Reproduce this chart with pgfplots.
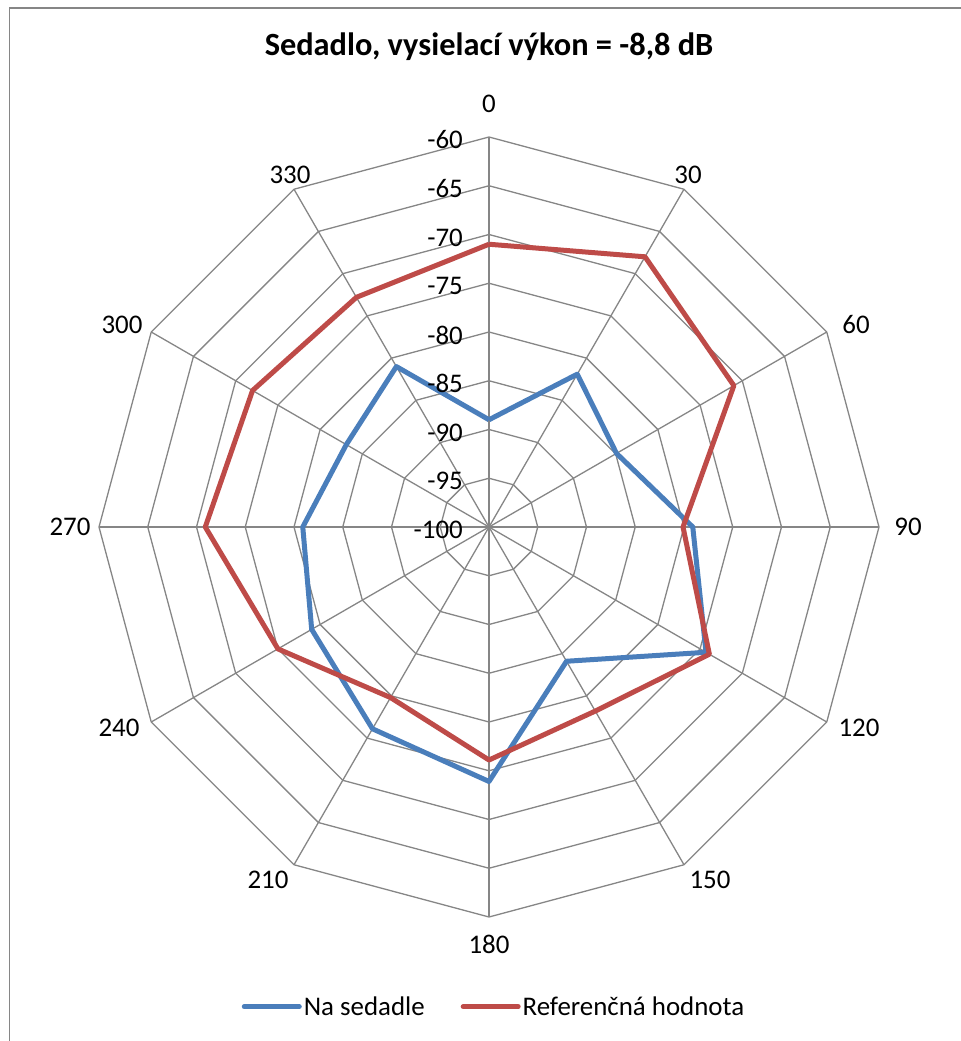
\documentclass[border=0pt]{standalone}
\usepackage{fontspec}
\setmainfont{Carlito}
\usepackage{pgfplots}
\usepackage{pgfplotstable}
\pgfplotsset{compat=1.18}
\usepgfplotslibrary{polar}

\definecolor{gridgray}{HTML}{868686}
\definecolor{seatblue}{HTML}{4A7EBB}
\definecolor{refred}{HTML}{BE4B48}

% received level (dB) per direction (degrees, clockwise from the top)
\pgfplotstableread{
angle seat  ref
0     -89.0 -71.0
30    -81.9 -68.0
60    -84.9 -71.0
90    -79.1 -80.1
120   -74.3 -73.9
150   -84.1 -78.2
180   -73.9 -76.1
210   -76.1 -79.8
240   -79.0 -75.0
270   -80.9 -70.9
300   -83.1 -72.0
330   -81.0 -72.8
360   -89.0 -71.0
}\radardata

% compass angle -> polar angle, level -> radius above -100 dB
\pgfplotsset{radar/.style={
  x filter/.expression={mod(450-x,360)},
  y filter/.expression={y+100}}}

\newcommand\lblfont{\fontsize{27}{32}\selectfont}

\begin{document}
\begin{tikzpicture}
\useasboundingbox (0,0) rectangle (961bp,1041bp);
\draw[gridgray, line width=1.6bp] (9.5bp,-5bp) -- (9.5bp,1033bp) -- (970bp,1033bp);

\begin{polaraxis}[
  at={(489bp,514bp)}, anchor=center,
  scale only axis, width=780bp, height=780bp,
  xmin=0, xmax=360, ymin=0, ymax=40,
  hide axis, clip=false,
  legend columns=2,
  legend image code/.code={\draw[#1, line cap=round] (0bp,0bp) -- (55bp,0bp);},
  legend style={draw=none, fill=none, at={(axis cs:270,49.2)}, anchor=center,
    xshift=5bp, font=\lblfont, nodes={inner sep=2bp},
    /tikz/every even column/.append style={column sep=34bp}},
]
% polygon grid: rings every 5 dB and twelve spokes
\pgfplotsinvokeforeach{-95,-90,-85,-80,-75,-70,-65,-60}{
  \addplot[radar, gridgray, line width=1.3bp, forget plot]
    coordinates {(0,#1) (30,#1) (60,#1) (90,#1) (120,#1) (150,#1) (180,#1)
                 (210,#1) (240,#1) (270,#1) (300,#1) (330,#1) (360,#1)};
}
\pgfplotsinvokeforeach{0,30,60,90,120,150,180,210,240,270,300,330}{
  \addplot[radar, gridgray, line width=1.3bp, forget plot]
    coordinates {(#1,-100) (#1,-60)};
}
\addplot[radar, seatblue, line width=5bp, line join=round]
  table[x=angle, y=seat] {\radardata};
\addlegendentry{Na sedadle}
\addplot[radar, refred, line width=5bp, line join=round]
  table[x=angle, y=ref] {\radardata};
\addlegendentry{Referenčná hodnota}
\end{polaraxis}

% title
\node[font=\bfseries\fontsize{32.5}{38}\selectfont] at (489bp,994bp)
  {Sedadlo, vysielací výkon = -8,8 dB};

% level labels along the upward spoke
\foreach \k/\lab in {0/-100,1/-95,2/-90,3/-85,4/-80,5/-75,6/-70,7/-65,8/-60}
  \node[font=\lblfont, anchor=east, inner sep=0pt] at (463bp, 511bp+48.75bp*\k) {\lab};

% direction labels
\begin{scope}[every node/.style={font=\lblfont, inner sep=0pt}]
\node at (489bp,937bp) {0};
\node at (688bp,866bp) {30};
\node at (856bp,716bp) {60};
\node at (908bp,514bp) {90};
\node at (859bp,313bp) {120};
\node at (710bp,161bp) {150};
\node at (489bp,97bp) {180};
\node at (268bp,161bp) {210};
\node at (119bp,313bp) {240};
\node at (70bp,514bp) {270};
\node at (122bp,716bp) {300};
\node at (290bp,866bp) {330};
\end{scope}
\end{tikzpicture}
\end{document}
